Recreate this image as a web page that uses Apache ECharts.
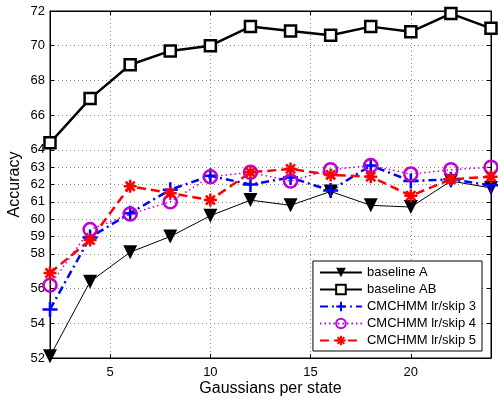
<!DOCTYPE html>
<html>
<head>
<meta charset="utf-8">
<script src="https://cdn.jsdelivr.net/npm/echarts@6/dist/echarts.min.js"></script>
<style>
  html, body { margin: 0; padding: 0; background: #fff; }
  #chart { width: 498px; height: 399px; }
</style>
</head>
<body>
<div id="chart"></div>
<script>
// gaussians per state
const gaussians = [2, 4, 6, 8, 10, 12, 14, 16, 18, 20, 22, 24];
const baselineA = [52.1, 56.4, 58.1, 59.0, 60.2, 61.1, 60.8, 61.6, 60.8, 60.7, 62.2, 61.8];
const baselineAB = [64.4, 66.95, 68.9, 69.7, 70.0, 71.1, 70.85, 70.6, 71.1, 70.8, 71.85, 71.0];
const skip3 = [54.8, 58.95, 60.35, 61.7, 62.5, 62.0, 62.4, 61.65, 63.1, 62.2, 62.3, 61.95];
const skip4 = [56.2, 59.4, 60.3, 61.0, 62.45, 62.7, 62.2, 62.85, 63.1, 62.6, 62.85, 63.0];
const skip5 = [56.9, 58.8, 61.9, 61.5, 61.1, 62.7, 62.9, 62.55, 62.45, 61.35, 62.3, 62.45];
const xTicks = [5, 10, 15, 20];
const yTicks = [52, 54, 56, 58, 59, 60, 61, 62, 63, 64, 66, 68, 70, 72];

const chart = echarts.init(document.getElementById("chart"));
const font = "Liberation Sans";

function pairs(ys) {
  return gaussians.map((x, i) => [x, ys[i]]);
}

const plusPath = "path://M0,-10L0,10M-10,0L10,0";
const starPath = "path://M0,-10L0,10M-10,0L10,0M-7,-7L7,7M-7,7L7,-7";

const gridLine = {
  show: true,
  lineStyle: { color: "#888", type: [1, 3], width: 1 },
};

const option = {
  animation: false,
  backgroundColor: "#fff",
  textStyle: { fontFamily: font },
  grid: {
    left: 50,
    right: 7,
    top: 11,
    bottom: 41,
    outerBoundsMode: "none",
    containLabel: false,
    show: true,
    borderColor: "#000",
    borderWidth: 1,
  },
  legend: {
    orient: "vertical",
    right: 16,
    bottom: 48,
    itemWidth: 42,
    itemHeight: 12,
    itemGap: 4,
    padding: [5, 6, 4, 6],
    backgroundColor: "#fff",
    borderColor: "#000",
    borderWidth: 1,
    borderRadius: 0,
    textStyle: { fontFamily: font, fontSize: 13, color: "#000" },
    data: ["baseline A", "baseline AB", "CMCHMM lr/skip 3", "CMCHMM lr/skip 4", "CMCHMM lr/skip 5"],
  },
  xAxis: [
    {
      type: "value",
      min: 2,
      max: 24,
      name: "Gaussians per state",
      nameLocation: "middle",
      nameGap: 23,
      nameMoveOverlap: false,
      nameTextStyle: { fontFamily: font, fontSize: 16, color: "#000" },
      axisLine: { lineStyle: { color: "#000" } },
      axisTick: { inside: true, length: 4, customValues: xTicks, lineStyle: { color: "#000" } },
      axisLabel: { customValues: xTicks, fontSize: 13, color: "#000", margin: 8 },
      splitLine: gridLine,
    },
    {
      type: "value",
      position: "top",
      min: 2,
      max: 24,
      axisLine: { lineStyle: { color: "#000" } },
      axisTick: { inside: true, length: 4, customValues: xTicks, lineStyle: { color: "#000" } },
      axisLabel: { show: false },
      splitLine: { show: false },
    },
  ],
  yAxis: [
    {
      type: "value",
      min: 52,
      max: 72,
      interval: 1,
      name: "Accuracy",
      nameLocation: "middle",
      nameGap: 27,
      nameMoveOverlap: false,
      nameTextStyle: { fontFamily: font, fontSize: 16, color: "#000" },
      axisLine: { show: true, lineStyle: { color: "#000" } },
      axisTick: { show: true, inside: true, length: 4, customValues: yTicks, lineStyle: { color: "#000" } },
      axisLabel: { customValues: yTicks, fontSize: 13, color: "#000", margin: 5 },
      splitLine: gridLine,
    },
    {
      type: "value",
      position: "right",
      min: 52,
      max: 72,
      interval: 1,
      axisLine: { show: true, lineStyle: { color: "#000" } },
      axisTick: { show: true, inside: true, length: 4, customValues: yTicks, lineStyle: { color: "#000" } },
      axisLabel: { show: false },
      splitLine: { show: false },
    },
  ],
  series: [
    {
      name: "baseline A",
      type: "line",
      data: pairs(baselineA),
      symbol: "triangle",
      symbolRotate: 180,
      symbolSize: 14,
      lineStyle: { color: "#000", width: 1 },
      itemStyle: { color: "#000" },
    },
    {
      name: "baseline AB",
      type: "line",
      data: pairs(baselineAB),
      symbol: "rect",
      symbolSize: 11,
      lineStyle: { color: "#000", width: 2.5 },
      itemStyle: { color: "#fff", borderColor: "#000", borderWidth: 2.5 },
    },
    {
      name: "CMCHMM lr/skip 3",
      type: "line",
      data: pairs(skip3),
      symbol: plusPath,
      symbolSize: 15,
      lineStyle: { color: "#0000ff", width: 2.5, type: [8, 4, 2, 4] },
      itemStyle: { color: "#0000ff", borderColor: "#0000ff", borderWidth: 2.5 },
    },
    {
      name: "CMCHMM lr/skip 4",
      type: "line",
      data: pairs(skip4),
      symbol: "circle",
      symbolSize: 13,
      lineStyle: { color: "#c000d0", width: 1.5, type: [1.5, 3] },
      itemStyle: { color: "rgba(0,0,0,0)", borderColor: "#c000d0", borderWidth: 2.5 },
    },
    {
      name: "CMCHMM lr/skip 5",
      type: "line",
      data: pairs(skip5),
      symbol: starPath,
      symbolSize: 13,
      lineStyle: { color: "#ff0000", width: 2.5, type: [9, 5] },
      itemStyle: { color: "#ff0000", borderColor: "#ff0000", borderWidth: 2.5 },
    },
  ],
};

chart.setOption(option);
</script>
</body>
</html>
